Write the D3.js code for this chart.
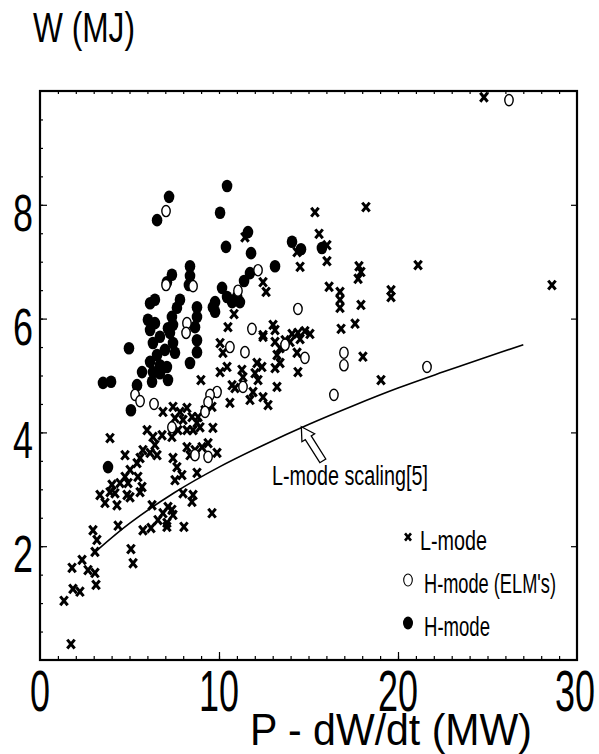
<!DOCTYPE html>
<html><head><meta charset="utf-8">
<script src="https://cdn.jsdelivr.net/npm/d3@7"></script>
<style>html,body{margin:0;padding:0;background:#fff;}svg{display:block;}
text{font-family:"Liberation Sans Narrow","Arial Narrow","Liberation Sans",sans-serif;fill:#000;}</style>
</head><body><svg id="c" width="599" height="754"></svg>
<script>
// ---- data ----
const lmodeP = [24.80,28.60,18.21,21.12,17.82,17.93,17.77,19.61,19.61,16.76,16.76,16.76,17.93,17.60,16.82,18.04,19.05,15.36,15.59,16.03,11.45,14.36,14.53,16.03,16.15,12.46,12.63,10.84,10.50,13.02,13.13,12.46,14.08,14.41,14.80,15.08,14.53,13.97,13.69,13.41,13.13,12.46,14.36,14.41,10.06,10.22,13.24,13.41,13.13,12.12,12.01,12.40,12.18,11.28,11.34,10.06,10.45,8.99,13.24,10.73,10.89,11.90,11.73,12.46,12.74,10.61,9.61,9.22,8.83,8.94,9.66,9.39,9.05,9.89,8.77,9.61,6.87,7.43,7.82,8.21,7.54,7.99,8.49,8.77,7.71,8.21,8.55,7.37,5.98,6.31,6.82,6.42,5.75,6.15,6.54,5.59,5.42,7.43,7.65,7.54,7.93,8.21,8.38,8.66,5.03,4.75,4.92,4.47,4.02,4.19,5.47,5.70,3.35,4.86,7.99,8.55,3.91,4.75,3.63,3.91,4.30,5.03,5.59,4.36,2.96,3.18,3.07,6.26,7.15,6.87,7.37,7.43,6.59,7.09,7.09,5.75,6.20,8.49,8.04,5.08,5.20,2.35,1.79,2.68,3.07,3.13,1.84,2.23,1.34,1.73];
const lmodeW = [9.89,6.59,7.96,6.94,6.92,6.82,6.70,6.50,6.38,6.47,6.33,6.19,6.24,5.91,5.82,5.33,4.92,7.87,7.49,7.29,7.43,7.17,6.91,7.01,6.56,6.64,6.47,6.08,5.85,5.89,5.80,5.71,5.73,5.75,5.78,5.73,5.64,5.59,5.62,5.48,5.59,5.68,5.40,5.06,5.57,5.40,5.36,5.22,5.13,5.22,5.04,5.15,4.92,5.10,4.97,5.06,5.15,4.92,4.80,4.83,4.78,4.71,4.57,4.62,4.48,4.52,4.45,4.39,4.27,4.09,4.08,3.81,3.74,3.64,3.29,2.58,4.36,4.45,4.36,4.43,4.25,4.22,4.27,4.17,4.04,4.04,4.04,3.92,4.04,3.92,3.95,3.78,3.69,3.64,3.60,3.55,3.46,3.55,3.39,3.16,3.25,3.74,3.60,3.69,3.34,3.22,3.11,3.11,3.08,2.93,3.22,3.04,2.90,2.90,2.93,2.90,3.90,3.60,2.76,2.95,2.72,2.86,2.95,2.36,2.28,2.11,1.90,2.72,2.69,2.58,2.64,2.55,2.46,2.41,2.34,2.28,2.32,2.78,2.34,1.95,1.70,1.76,1.62,1.58,1.53,1.32,1.25,1.20,1.04,0.28];

const hmodeP = [10.45,10.06,7.21,6.54,11.62,10.39,11.79,13.13,14.08,14.58,15.75,11.73,11.40,10.17,10.45,10.73,11.17,9.78,9.78,11.01,8.38,8.38,8.32,7.37,7.09,6.42,6.15,7.82,7.65,7.37,8.77,8.77,8.66,6.03,6.42,6.15,7.15,7.43,6.31,6.70,7.26,7.43,7.54,6.54,6.15,6.70,6.31,5.70,7.09,6.70,6.98,4.97,6.26,7.15,5.42,8.38,8.77,8.77,3.52,3.97,5.08,3.80,9.66];
const hmodeW = [8.33,7.86,8.14,7.73,7.52,7.26,7.15,6.92,7.35,7.22,7.24,6.80,6.66,6.54,6.38,6.29,6.29,6.29,6.12,6.38,6.92,6.75,6.59,6.77,6.64,6.33,6.27,6.33,6.19,6.03,6.20,6.03,5.85,5.98,5.92,5.80,5.83,5.89,5.57,5.68,5.75,5.57,5.40,5.36,5.24,5.18,5.06,5.06,5.15,5.04,5.45,5.48,4.89,4.92,4.83,5.22,5.41,5.62,4.87,4.89,4.39,3.39,6.20];

const elmP = [26.20,7.04,12.18,11.06,8.55,7.04,8.21,8.16,14.41,11.84,10.61,11.45,13.69,14.80,16.98,16.98,21.62,16.42,11.34,9.89,9.50,9.39,9.22,9.39,5.31,5.59,6.37,7.37,8.66];
const elmW = [9.84,7.89,6.85,6.49,6.57,6.59,5.92,5.75,6.17,5.82,5.50,5.41,5.54,5.31,5.40,5.18,5.15,4.66,4.80,4.71,4.66,4.53,4.36,3.57,4.66,4.55,4.50,4.09,3.60];

// L-mode scaling curve [5]
const scaleP = [3.2,5,7.5,10,12.5,15,17.5,20,22.5,25,27];
const scaleW = [1.93,2.40,2.94,3.39,3.78,4.14,4.47,4.78,5.06,5.33,5.54];

const xTicks = [0,10,20,30];
const yTicks = [2,4,6,8];
const legendLabels = ["L-mode","H-mode (ELM's)","H-mode"];

// ---- drawing ----
const svg = d3.select("#c");
const L=40,R=577,T=91,B=660;
const x = d3.scaleLinear().domain([0,30]).range([L,R]);
const y = d3.scaleLinear().domain([0,10]).range([B,T]);

// text helper: place text and squeeze it horizontally to a target width
function putText(str, px, py, size, width, anchor){
  const t = svg.append("text").attr("font-size",size).attr("text-anchor",anchor||"start").text(str);
  const w = t.node().getComputedTextLength();
  const s = width / w;
  t.attr("transform",`translate(${px},${py}) scale(${s},1)`);
  return t;
}

// minor/major ticks via axes (inward)
svg.append("g").attr("transform",`translate(0,${B})`)
  .call(d3.axisBottom(x).tickValues(d3.range(1,30)).tickSize(-4).tickFormat(""));
svg.append("g").attr("transform",`translate(0,${B})`)
  .call(d3.axisBottom(x).tickValues([10,20]).tickSize(-8).tickFormat(""));
svg.append("g").attr("transform",`translate(0,${T})`)
  .call(d3.axisTop(x).tickValues(d3.range(1,30)).tickSize(-3).tickFormat(""));
svg.append("g").attr("transform",`translate(${L},0)`)
  .call(d3.axisLeft(y).tickValues(d3.range(0.5,10,0.5)).tickSize(-3).tickFormat(""));
svg.append("g").attr("transform",`translate(${L},0)`)
  .call(d3.axisLeft(y).tickValues(yTicks).tickSize(-7).tickFormat(""));
svg.append("g").attr("transform",`translate(${R},0)`)
  .call(d3.axisRight(y).tickValues(yTicks).tickSize(-6).tickFormat(""));
svg.selectAll(".domain").remove();
svg.selectAll(".tick line").attr("stroke","#000").attr("stroke-width",1.2);

// frame
svg.append("rect").attr("x",L).attr("y",T).attr("width",R-L).attr("height",B-T)
  .attr("fill","none").attr("stroke","#000").attr("stroke-width",2.2);

// tick labels
xTicks.forEach(d => putText(String(d), Math.min(x(d),575), 711, 58, String(d).length*20, "middle"));
yTicks.forEach(d => putText(String(d), 33, y(d)+26, 51, 20, "end"));

// titles
putText("W (MJ)", 33, 42, 43, 102);
putText("P - dW/dt (MW)", 250, 745, 44, 282);

// scaling curve
const line = d3.line().x((d,i)=>x(scaleP[i])).y((d,i)=>y(scaleW[i])).curve(d3.curveCatmullRom);
svg.append("path").attr("d",line(scaleP)).attr("fill","none").attr("stroke","#000").attr("stroke-width",1.6);

// annotation arrow (hollow block arrow pointing to the curve)
(function(){
  const tip=[x(14.6),y(4.1)], tail=[x(15.8),y(3.5)];
  const dx=tip[0]-tail[0], dy=tip[1]-tail[1], len=Math.hypot(dx,dy);
  const ux=dx/len, uy=dy/len, px=-uy, py=ux;
  const hl=13, hw=7.5, sw=3.5;
  const base=[tip[0]-ux*hl, tip[1]-uy*hl];
  const pts=[tip,
    [base[0]+px*hw, base[1]+py*hw],
    [base[0]+px*sw, base[1]+py*sw],
    [tail[0]+px*sw, tail[1]+py*sw],
    [tail[0]-px*sw, tail[1]-py*sw],
    [base[0]-px*sw, base[1]-py*sw],
    [base[0]-px*hw, base[1]-py*hw]];
  svg.append("polygon").attr("points",pts.map(p=>p.join(",")).join(" "))
    .attr("fill","#fff").attr("stroke","#000").attr("stroke-width",1.3).attr("stroke-linejoin","miter");
})();
putText("L-mode scaling[5]", 272, 485, 28, 156);

// markers
const xPath = s => `M${-s},${-s*1.2}L${s},${s*1.2}M${s},${-s*1.2}L${-s},${s*1.2}`;
svg.append("g").selectAll("path").data(lmodeP).enter().append("path")
  .attr("transform",(d,i)=>`translate(${x(d)},${y(lmodeW[i])})`)
  .attr("d",xPath(3.7)).attr("stroke","#000").attr("stroke-width",3).attr("fill","none");
svg.append("g").selectAll("ellipse").data(hmodeP).enter().append("ellipse")
  .attr("cx",d=>x(d)).attr("cy",(d,i)=>y(hmodeW[i])).attr("rx",5.3).attr("ry",6.3).attr("fill","#000");
svg.append("g").selectAll("ellipse").data(elmP).enter().append("ellipse")
  .attr("cx",d=>x(d)).attr("cy",(d,i)=>y(elmW[i])).attr("rx",4.2).attr("ry",5.6)
  .attr("fill","#fff").attr("stroke","#000").attr("stroke-width",1.4);

// legend
const ly = [537,580,623], ltx=[420,424,424], ltl=[67,132,66];
svg.append("path").attr("transform",`translate(408,${ly[0]})`).attr("d",xPath(3)).attr("stroke","#000").attr("stroke-width",2.6);
svg.append("ellipse").attr("cx",408).attr("cy",ly[1]).attr("rx",4.3).attr("ry",6).attr("fill","#fff").attr("stroke","#000").attr("stroke-width",1.1);
svg.append("ellipse").attr("cx",408).attr("cy",ly[2]).attr("rx",5).attr("ry",6.5).attr("fill","#000");
legendLabels.forEach((d,i) => putText(d, ltx[i], ly[i]+13, 28, ltl[i]));
</script></body></html>
